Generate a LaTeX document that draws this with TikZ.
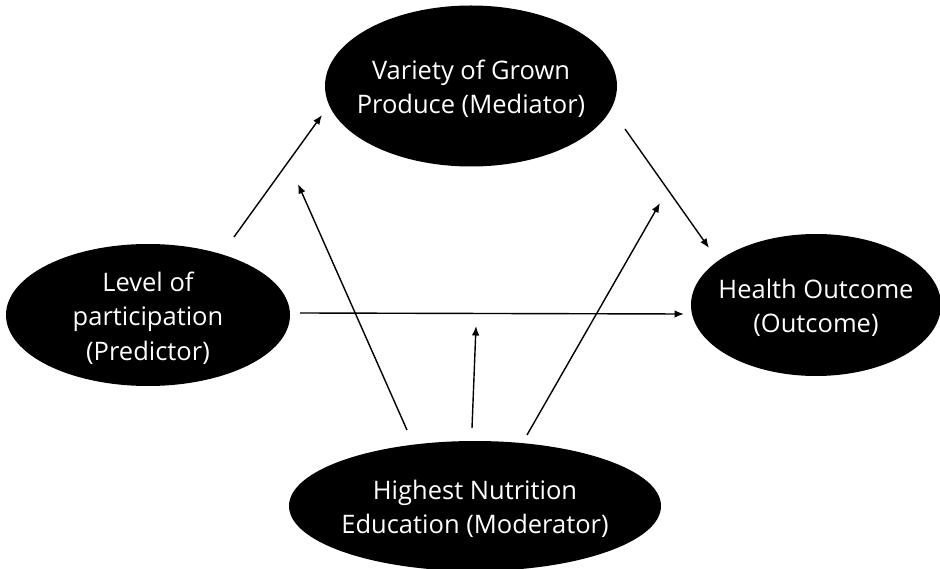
\documentclass[tikz,border=0pt]{standalone}
\usepackage{fontspec}
\setmainfont{Open Sans}
\usetikzlibrary{shapes.geometric,arrows.meta}
\begin{document}
\begin{tikzpicture}[x=1pt,y=-1pt,
  blob/.style={ellipse,fill=black,inner sep=0pt},
  blobtext/.style={text=white,align=center,inner sep=0pt,yshift=-3pt,
    font=\fontsize{25.5}{34.5}\selectfont},
  conn/.style={line width=1.4pt,-{Latex[length=9.5pt,width=7.5pt]}}]
\useasboundingbox (0,0) rectangle (940,569);
\node[blob,minimum width=292pt,minimum height=161pt] (med) at (471,86) {};
\node[blobtext] (medt) at (med.center) {Variety of Grown\\Produce (Mediator)};
\node[blob,minimum width=284pt,minimum height=142pt] (pred) at (148,315) {};
\node[blobtext] (predt) at (pred.center) {Level of\\participation\\(Predictor)};
\node[blob,minimum width=250pt,minimum height=142pt] (out) at (816,305) {};
\node[blobtext] (outt) at (out.center) {Health Outcome\\(Outcome)};
\node[blob,minimum width=372pt,minimum height=130pt] (mod) at (475,506) {};
\node[blobtext] (modt) at (mod.center) {Highest Nutrition\\Education (Moderator)};
\coordinate (a1s) at (234,237); \coordinate (a1e) at (322,115);
\coordinate (a2s) at (407,430); \coordinate (a2e) at (298,184);
\coordinate (a3s) at (625,129); \coordinate (a3e) at (709,248);
\coordinate (a4s) at (527,435); \coordinate (a4e) at (660,203);
\coordinate (a5s) at (472,428); \coordinate (a5e) at (476,326);
\coordinate (a6s) at (300,313); \coordinate (a6e) at (684,314);
\draw[conn] (a1s) -- (a1e);
\draw[conn] (a2s) -- (a2e);
\draw[conn] (a3s) -- (a3e);
\draw[conn] (a4s) -- (a4e);
\draw[conn] (a5s) -- (a5e);
\draw[conn] (a6s) -- (a6e);
\end{tikzpicture}
\end{document}
